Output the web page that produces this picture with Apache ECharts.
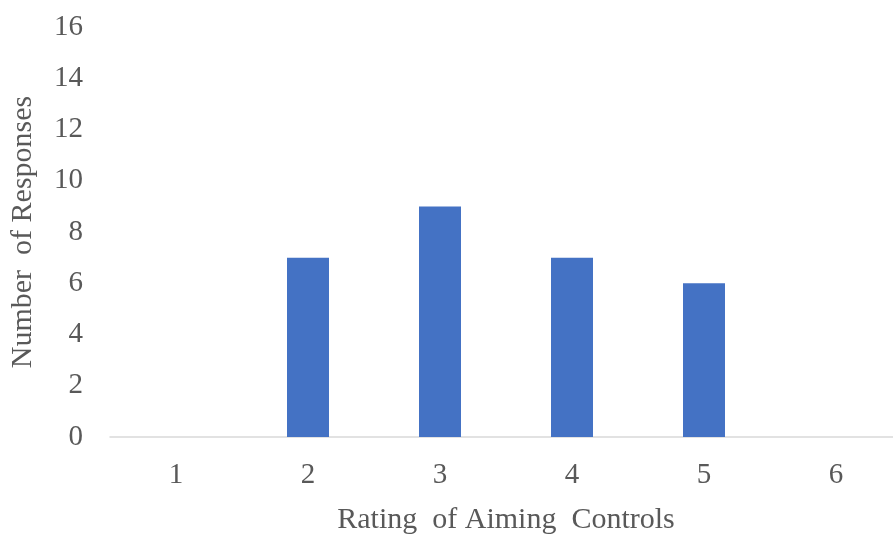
<!DOCTYPE html>
<html><head><meta charset="utf-8">
<script src="https://cdn.jsdelivr.net/npm/echarts@6/dist/echarts.min.js"></script>
<style>html,body{margin:0;padding:0;background:#fff;overflow:hidden;width:893px;height:540px}#c{width:910px;height:540px}</style>
</head><body><div id="c"></div>
<script>
var categories = ['1','2','3','4','5','6'];
var responses = [0, 7, 9, 7, 6, 0];
var yTicks = {min: 0, max: 16, interval: 2};
var xName = 'Rating  of Aiming  Controls';
var yName = 'Number  of Responses';

var font = 'Liberation Serif';
var chart = echarts.init(document.getElementById('c'));
chart.setOption({
  backgroundColor: '#fff',
  animation: false,
  grid: {left: 109, width: 793, top: 27, bottom: 102, containLabel: false},
  xAxis: {
    type: 'category', data: categories,
    axisLine: {lineStyle: {color: '#d9d9d9', width: 1.5}},
    axisTick: {show: false},
    axisLabel: {color: '#595959', fontFamily: font, fontSize: 29, margin: 24},
    name: xName, nameLocation: 'middle', nameGap: 68,
    nameTextStyle: {color: '#595959', fontFamily: font, fontSize: 30}
  },
  yAxis: {
    type: 'value', min: yTicks.min, max: yTicks.max, interval: yTicks.interval,
    splitLine: {show: false},
    axisLine: {show: false}, axisTick: {show: false},
    axisLabel: {color: '#595959', fontFamily: font, fontSize: 29, margin: 27},
    name: yName, nameLocation: 'middle', nameGap: 72, nameRotate: 90,
    nameTextStyle: {color: '#595959', fontFamily: font, fontSize: 30}
  },
  series: [{
    type: 'bar', data: responses, barWidth: 42,
    itemStyle: {color: '#4472C4'}
  }]
});
</script></body></html>
